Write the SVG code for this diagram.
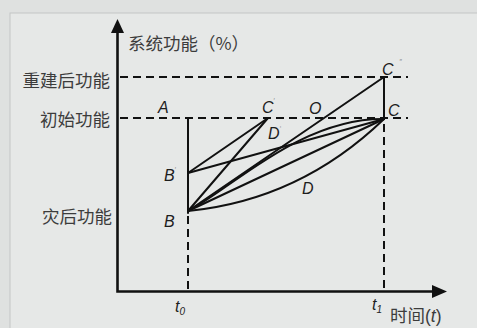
<svg xmlns="http://www.w3.org/2000/svg" width="477" height="328" viewBox="0 0 477 328">
  <defs>
    <style>
      .axis{stroke:#111;stroke-width:2.6;fill:none}
      .dash{stroke:#111;stroke-width:2;fill:none;stroke-dasharray:8 5}
      .ln{stroke:#111;stroke-width:2;fill:none;stroke-linecap:round}
      .cjk{font-family:"Noto Sans CJK SC","Noto Sans",sans-serif;font-size:17.5px;fill:#3c3c3c}
      .lbl{font-family:"Liberation Sans",Arial,sans-serif;font-style:italic;font-size:16px;fill:#1e1e1e}
      .pr{font-size:7px;fill:#8a8a8a;font-style:normal}
    </style>
  </defs>
  <rect x="0" y="0" width="477" height="328" fill="#dfe1e0"/>
  <rect x="10" y="13" width="470" height="320" fill="#e6e8e7" stroke="#c4c6c5" stroke-width="1"/>

  <g id="axes">
    <polyline class="axis" points="117.5,30 117.5,291.5 436,291.5"/>
    <polygon points="117.5,19 111,33 124,33" fill="#111"/>
    <polygon points="447,291.5 432,285 432,298" fill="#111"/>
    <text class="cjk" x="128" y="50">系统功能（%）</text>
    <text class="cjk" x="390" y="322">时间<tspan font-family="Liberation Sans, Arial, sans-serif">(<tspan font-style="italic">t</tspan>)</tspan></text>
  </g>

  <g id="levels">
    <line class="dash" x1="120" y1="77" x2="408" y2="77"/>
    <line class="dash" x1="120" y1="118" x2="408" y2="118"/>
    <text class="cjk" x="110" y="87" text-anchor="end">重建后功能</text>
    <text class="cjk" x="110" y="126" text-anchor="end">初始功能</text>
    <text class="cjk" x="112" y="223" text-anchor="end">灾后功能</text>
  </g>

  <g id="t0">
    <line class="ln" x1="188" y1="118" x2="188" y2="213" stroke-linecap="butt"/>
    <line class="dash" x1="188" y1="216" x2="188" y2="290"/>
    <text class="lbl" x="175" y="312">t<tspan font-size="10" dy="3">0</tspan></text>
  </g>

  <g id="t1">
    <line class="ln" x1="384" y1="77" x2="384" y2="119" stroke-linecap="butt"/>
    <line class="dash" x1="384" y1="124" x2="384" y2="290"/>
    <text class="lbl" x="372" y="310">t<tspan font-size="10" dy="3">1</tspan></text>
  </g>

  <g id="connectors">
    <line class="ln" x1="188" y1="173" x2="268" y2="118"/>
    <line class="ln" x1="188" y1="173" x2="384" y2="119"/>
    <line class="ln" x1="188" y1="211" x2="268" y2="118"/>
    <line class="ln" x1="188" y1="211" x2="384" y2="77"/>
    <line class="ln" x1="188" y1="211" x2="384" y2="119"/>
    <path class="ln" d="M188,211 C230,190 300,118 384,119"/>
    <path class="ln" d="M188,211 Q300,200 384,119"/>
  </g>

  <g id="point-A"><text class="lbl" x="158" y="113">A</text></g>
  <g id="point-B1"><text class="lbl" x="164" y="181">B<tspan class="pr" dy="-9">′</tspan></text></g>
  <g id="point-B"><text class="lbl" x="164" y="227">B</text></g>
  <g id="point-C1"><text class="lbl" x="262" y="113">C<tspan class="pr" dy="-10">′</tspan></text></g>
  <g id="point-O"><text class="lbl" x="309" y="114">O</text></g>
  <g id="point-D1"><text class="lbl" x="268" y="139">D<tspan class="pr" dy="-12">,</tspan></text></g>
  <g id="point-D"><text class="lbl" x="302" y="194">D</text></g>
  <g id="point-C"><text class="lbl" x="388" y="116">C</text></g>
  <g id="point-C2"><text class="lbl" x="382" y="75">C<tspan class="pr" dy="-11" dx="6">″</tspan></text></g>
</svg>
